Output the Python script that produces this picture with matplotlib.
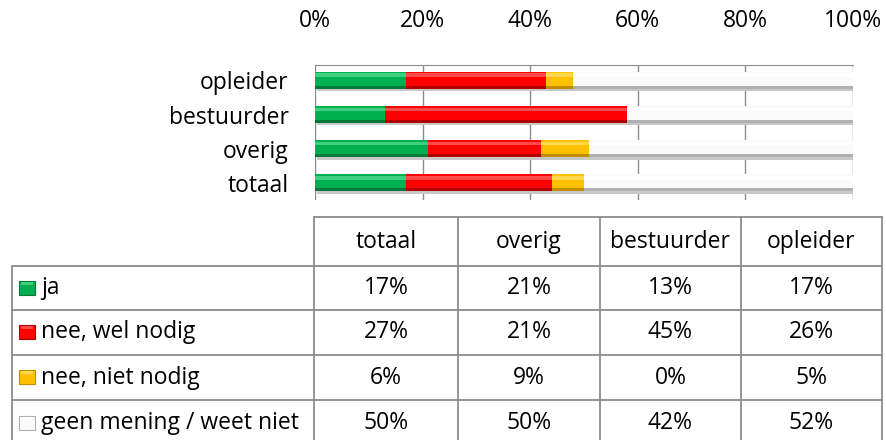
import matplotlib.pyplot as plt
import numpy as np

plt.rcParams['font.family'] = ['Open Sans', 'DejaVu Sans']

# categories (bottom -> top in the bar chart, left -> right in the table)
groups = ['totaal', 'overig', 'bestuurder', 'opleider']
answers = ['ja', 'nee, wel nodig', 'nee, niet nodig', 'geen mening / weet niet']
ja = [17, 21, 13, 17]
nee_nodig = [27, 21, 45, 26]
nee_niet = [6, 9, 0, 5]
geen = [50, 50, 42, 52]
ticks = [0, 20, 40, 60, 80, 100]

series = [ja, nee_nodig, nee_niet, geen]
# main / light top / dark bottom
colors = [('#00b050', '#3fd07f', '#007a38'),
          ('#ff0000', '#ff4a4a', '#b00000'),
          ('#ffc000', '#ffd84d', '#c08c00'),
          ('#fafafa', '#ffffff', '#b0b0b0')]

FS = 16.5
W, H = 887, 440
fig = plt.figure(figsize=(W / 100, H / 100), dpi=100)

# ---------- bar chart ----------
ax = fig.add_axes([315 / W, 1 - 200 / H, 538 / W, 135 / H])
y = np.arange(len(groups))
bh = 0.5
left = np.zeros(len(groups))
for vals, (c, cl, cd) in zip(series, colors):
    vals = np.array(vals, dtype=float)
    # shadow
    ax.barh(y - 0.07, vals, height=bh, left=left + 0.4, color='#c8c8c8', zorder=1)
    ax.barh(y, vals, height=bh, left=left, color=c, zorder=2)
    ax.barh(y + bh * 0.30, vals, height=bh * 0.22, left=left, color=cl, zorder=3)
    ax.barh(y - bh * 0.40, vals, height=bh * 0.2, left=left, color=cd, zorder=3)
    left += vals

ax.set_xlim(0, 100)
ax.set_ylim(-0.5, 3.45)
ax.set_yticks(y)
ax.set_yticklabels(groups, fontsize=FS)
ax.set_xticks(ticks)
ax.set_xticklabels([f'{t}%' for t in ticks], fontsize=FS)
ax.xaxis.tick_top()
ax.tick_params(axis='x', length=0, pad=23)
ax.tick_params(axis='y', length=0, pad=19)
ax.grid(axis='x', color='#8c8c8c', linewidth=1, zorder=0)
ax.set_axisbelow(True)
for s in ['bottom', 'left', 'right']:
    ax.spines[s].set_visible(False)
ax.spines['top'].set_color('#8c8c8c')

# ---------- data table ----------
tb = fig.add_axes([0, 0, 1, 1])
tb.set_xlim(0, W)
tb.set_ylim(H, 0)
tb.axis('off')
lc = '#8c8c8c'
col_x = [12, 314, 458, 600, 741, 882]
row_y = [217, 266, 310, 355, 400, 446]

tb.plot([314, 882], [217, 217], color=lc, lw=1.3)
for yy in row_y[1:]:
    tb.plot([12, 882], [yy, yy], color=lc, lw=1.3)
tb.plot([12, 12], [266, 446], color=lc, lw=1.3)
for xx in col_x[1:]:
    tb.plot([xx, xx], [217, 446], color=lc, lw=1.3)

for j, g in enumerate(groups):
    cx = (col_x[j + 1] + col_x[j + 2]) / 2
    tb.text(cx, 242, g, ha='center', va='center', fontsize=FS)
for i, (name, vals, (c, cl, cd)) in enumerate(zip(answers, series, colors)):
    cy = (row_y[i + 1] + row_y[i + 2]) / 2
    tb.add_patch(plt.Rectangle((19, cy - 7), 16, 14, facecolor=c, edgecolor=cd, lw=0.8))
    tb.add_patch(plt.Rectangle((21, cy - 6), 12, 3, facecolor=cl, edgecolor='none'))
    tb.text(41, cy, name, ha='left', va='center', fontsize=FS)
    for j, v in enumerate(vals):
        cx = (col_x[j + 1] + col_x[j + 2]) / 2
        tb.text(cx, cy, f'{v}%', ha='center', va='center', fontsize=FS)

fig.savefig('out.png', dpi=100)
